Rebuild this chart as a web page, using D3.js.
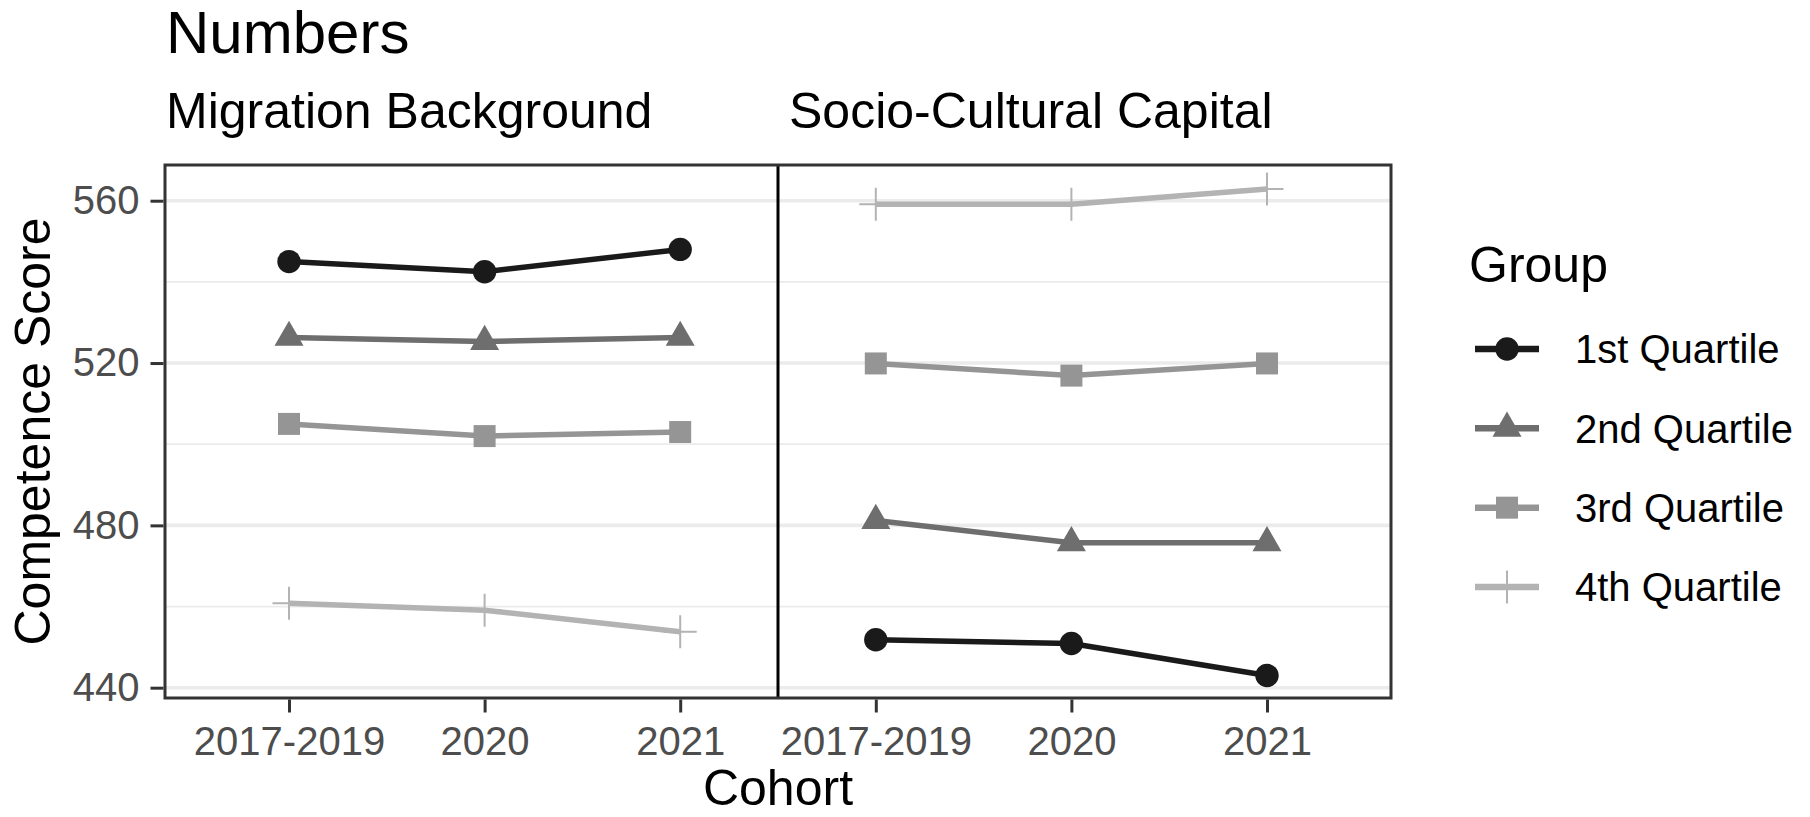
<!DOCTYPE html>
<html>
<head>
<meta charset="utf-8">
<script src="https://cdn.jsdelivr.net/npm/d3@7"></script>
<style>
  html, body { margin: 0; padding: 0; background: #ffffff; }
  svg { display: block; font-family: "Liberation Sans", Arial, sans-serif; }
</style>
</head>
<body>
<svg id="chart" width="1810" height="817"></svg>
<script>
// ---------------- data ----------------
const cohorts = ["2017-2019", "2020", "2021"];
const panels = ["Migration Background", "Socio-Cultural Capital"];
const groups = ["1st Quartile", "2nd Quartile", "3rd Quartile", "4th Quartile"];

// Migration Background
const migQ1 = [545.0, 542.5, 548.0];
const migQ2 = [526.3, 525.3, 526.3];
const migQ3 = [505.0, 502.0, 503.0];
const migQ4 = [460.8, 459.1, 453.8];
// Socio-Cultural Capital
const socQ1 = [451.8, 450.9, 443.0];
const socQ2 = [481.2, 475.7, 475.7];
const socQ3 = [519.9, 516.9, 519.9];
const socQ4 = [559.1, 559.1, 562.9];

const yTicks = [440, 480, 520, 560];
const yMinorTicks = [460, 500, 540];
const groupColors = ["#1a1a1a", "#6e6e6e", "#959595", "#b3b3b3"];
const groupShapes = ["circle", "triangle", "square", "plus"];

const titleText = "Numbers";
const xTitle = "Cohort";
const yTitle = "Competence Score";
const legendTitle = "Group";

// ---------------- build records ----------------
const seriesByPanel = [
  [migQ1, migQ2, migQ3, migQ4],
  [socQ1, socQ2, socQ3, socQ4]
];
const xKeys = [];
panels.forEach((p, pi) => cohorts.forEach(c => xKeys.push(pi + "|" + c)));

const series = [];
groups.forEach((g, gi) => {
  panels.forEach((p, pi) => {
    series.push({
      group: g, gi: gi, panel: pi,
      values: cohorts.map((c, ci) => ({ key: pi + "|" + c, value: seriesByPanel[pi][gi][ci] }))
    });
  });
});

// ---------------- layout ----------------
const svg = d3.select("#chart");
const plot = { left: 165, right: 1391, top: 165, bottom: 698 };
const base = 50;

const x = d3.scalePoint().domain(xKeys).range([plot.left, plot.right]).padding(0.634);
const y = d3.scaleLinear().domain([437.46, 568.8]).range([plot.bottom, plot.top]);

// panel background
svg.append("rect")
  .attr("x", plot.left).attr("y", plot.top)
  .attr("width", plot.right - plot.left).attr("height", plot.bottom - plot.top)
  .attr("fill", "#ffffff");

// minor grid
svg.append("g").selectAll("line").data(yMinorTicks).join("line")
  .attr("x1", plot.left).attr("x2", plot.right)
  .attr("y1", d => y(d)).attr("y2", d => y(d))
  .attr("stroke", "#ebebeb").attr("stroke-width", 1.8);
// major grid
svg.append("g").selectAll("line").data(yTicks).join("line")
  .attr("x1", plot.left).attr("x2", plot.right)
  .attr("y1", d => y(d)).attr("y2", d => y(d))
  .attr("stroke", "#ebebeb").attr("stroke-width", 3.6);

// separator between panels
const sepX = (x(xKeys[2]) + x(xKeys[3])) / 2;
svg.append("line")
  .attr("x1", sepX).attr("x2", sepX)
  .attr("y1", plot.top).attr("y2", plot.bottom)
  .attr("stroke", "#000000").attr("stroke-width", 3);

// lines
const line = d3.line().x(d => x(d.key)).y(d => y(d.value));
svg.append("g").selectAll("path").data(series).join("path")
  .attr("d", d => line(d.values))
  .attr("fill", "none")
  .attr("stroke", d => groupColors[d.gi])
  .attr("stroke-width", 5.5)
  .attr("stroke-linejoin", "round");

// markers
function drawMarker(sel, shape, color) {
  if (shape === "circle") {
    sel.append("path").attr("d", d3.symbol(d3.symbolCircle, 430)()).attr("fill", color);
  } else if (shape === "triangle") {
    sel.append("path").attr("d", d3.symbol(d3.symbolTriangle, 365)()).attr("fill", color);
  } else if (shape === "square") {
    sel.append("path").attr("d", d3.symbol(d3.symbolSquare, 484)()).attr("fill", color);
  } else {
    sel.append("path").attr("d", "M-16.5,0H16.5M0,-16.5V16.5")
      .attr("stroke", color).attr("stroke-width", 2).attr("fill", "none");
  }
}
series.forEach(s => {
  s.values.forEach(v => {
    const g = svg.append("g").attr("transform", `translate(${x(v.key)},${y(v.value)})`);
    drawMarker(g, groupShapes[s.gi], groupColors[s.gi]);
  });
});

// panel border
svg.append("rect")
  .attr("x", plot.left).attr("y", plot.top)
  .attr("width", plot.right - plot.left).attr("height", plot.bottom - plot.top)
  .attr("fill", "none").attr("stroke", "#333333").attr("stroke-width", 3);

// y axis
const yAxis = d3.axisLeft(y).tickValues(yTicks).tickSize(13).tickPadding(11).tickFormat(d3.format("d"));
const gy = svg.append("g").attr("transform", `translate(${plot.left - 1.5},0)`).call(yAxis);
gy.select(".domain").remove();
gy.selectAll(".tick line").attr("stroke", "#333333").attr("stroke-width", 3);
gy.selectAll(".tick text").attr("fill", "#4d4d4d").attr("font-size", base * 0.8)
  .attr("font-family", "'Liberation Sans', Arial, sans-serif");

// x axis
const xAxis = d3.axisBottom(x).tickSize(13).tickPadding(0).tickFormat(d => d.split("|")[1]);
const gx = svg.append("g").attr("transform", `translate(0,${plot.bottom + 1.5})`).call(xAxis);
gx.select(".domain").remove();
gx.selectAll(".tick line").attr("stroke", "#333333").attr("stroke-width", 3);
gx.selectAll(".tick text").attr("fill", "#4d4d4d").attr("font-size", base * 0.8)
  .attr("font-family", "'Liberation Sans', Arial, sans-serif")
  .attr("dy", null).attr("y", 755 - plot.bottom - 1.5);

// axis titles
svg.append("text").attr("x", (plot.left + plot.right) / 2).attr("y", 805)
  .attr("text-anchor", "middle").attr("font-size", base).attr("fill", "#000").text(xTitle);
svg.append("text")
  .attr("transform", `translate(50,${(plot.top + plot.bottom) / 2}) rotate(-90)`)
  .attr("text-anchor", "middle").attr("font-size", base).attr("fill", "#000").text(yTitle);

// title and facet subtitles
svg.append("text").attr("x", 166).attr("y", 53).attr("font-size", base * 1.2).attr("fill", "#000").text(titleText);
svg.append("text").attr("x", 166).attr("y", 128).attr("font-size", base).attr("fill", "#000").text(panels[0]);
svg.append("text").attr("x", 789).attr("y", 128).attr("font-size", base).attr("fill", "#000").text(panels[1]);

// legend
const leg = svg.append("g");
leg.append("text").attr("x", 1469).attr("y", 282).attr("font-size", base).attr("fill", "#000").text(legendTitle);
const legRowY = d3.scalePoint().domain(groups).range([349, 587]);
groups.forEach((g, gi) => {
  const row = leg.append("g").attr("transform", `translate(0,${legRowY(g)})`);
  row.append("line").attr("x1", 1475).attr("x2", 1539).attr("y1", 0).attr("y2", 0)
    .attr("stroke", groupColors[gi]).attr("stroke-width", 6.5);
  const m = row.append("g").attr("transform", "translate(1507,0)");
  drawMarker(m, groupShapes[gi], groupColors[gi]);
  row.append("text").attr("x", 1575).attr("y", 0).attr("dy", "0.36em")
    .attr("font-size", base * 0.8).attr("fill", "#000").text(g);
});
</script>
</body>
</html>
